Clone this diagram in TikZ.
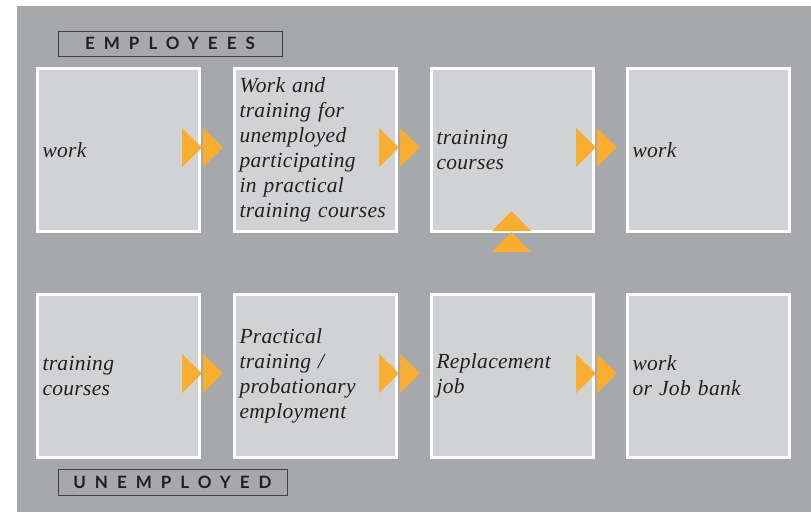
\documentclass[tikz,border=0pt]{standalone}
\usepackage{fontspec}
\setmainfont{Liberation Serif}[ItalicFeatures={LetterSpace=1.5}]
\newfontfamily\tagfont[LetterSpace=53]{Lato}

\definecolor{backgray}{HTML}{A7A8AB}
\definecolor{boxgray}{HTML}{D1D2D4}
\definecolor{marker}{HTML}{F9AE30}
\definecolor{ink}{HTML}{231F20}

\tikzset{
	stage/.style={rectangle, draw=white, line width=3pt, fill=boxgray,
		minimum width=162pt, minimum height=163pt, text width=152pt, inner xsep=5pt,
		align=left, text=ink, font=\itshape\fontsize{21.5}{25}\selectfont},
	group/.style={rectangle, draw=ink!85, line width=0.8pt, minimum height=25pt,
		text=ink, font=\tagfont\bfseries\fontsize{17}{17}\selectfont},
	twotri/.pic={
		\fill[marker] (-19,-19.5) -- (1,0) -- (-19,19.5) -- cycle;
		\fill[marker] (2,-19.5) -- (22,0) -- (2,19.5) -- cycle;
	}
}

\begin{document}
\begin{tikzpicture}[x=1pt,y=-1pt]
		
		\useasboundingbox (0,0) rectangle (811,512);
		\fill[backgray] (17,6) rectangle (811,512);
		
		%employees
		\node[stage](e1) at (118.5,150) {work};
		\node[stage](e2) at (315.5,150) {Work and\\training for\\unemployed\\participating\\in practical\\training courses};
		\node[stage](e3) at (512.5,150) {training\\courses};
		\node[stage](e4) at (708.5,150) {work};
		%unemployed
		\node[stage](u1) at (118.5,376) {training\\courses};
		\node[stage](u2) at (315.5,376) {Practical\\training /\\probationary\\employment};
		\node[stage](u3) at (512.5,376) {Replacement\\job};
		\node[stage](u4) at (708.5,376) {work\\or Job bank};
		
		%arrows
		\pic at ([yshift=2.5pt]e1.east) {twotri};
		\pic at ([yshift=2.5pt]e2.east) {twotri};
		\pic at ([yshift=2.5pt]e3.east) {twotri};
		\pic at ([yshift=2.5pt]u1.east) {twotri};
		\pic at ([yshift=2.5pt]u2.east) {twotri};
		\pic at ([yshift=2.5pt]u3.east) {twotri};
		\pic[rotate=90] at ([xshift=-1pt]e3.south) {twotri};
		
		%labels
		\node[group, minimum width=224pt](emp) at (170,43.5) {EMPLOYEES};
		\node[group, minimum width=229pt, minimum height=26pt](unemp) at (172.5,482) {UNEMPLOYED};
		\end{tikzpicture}
\end{document}
